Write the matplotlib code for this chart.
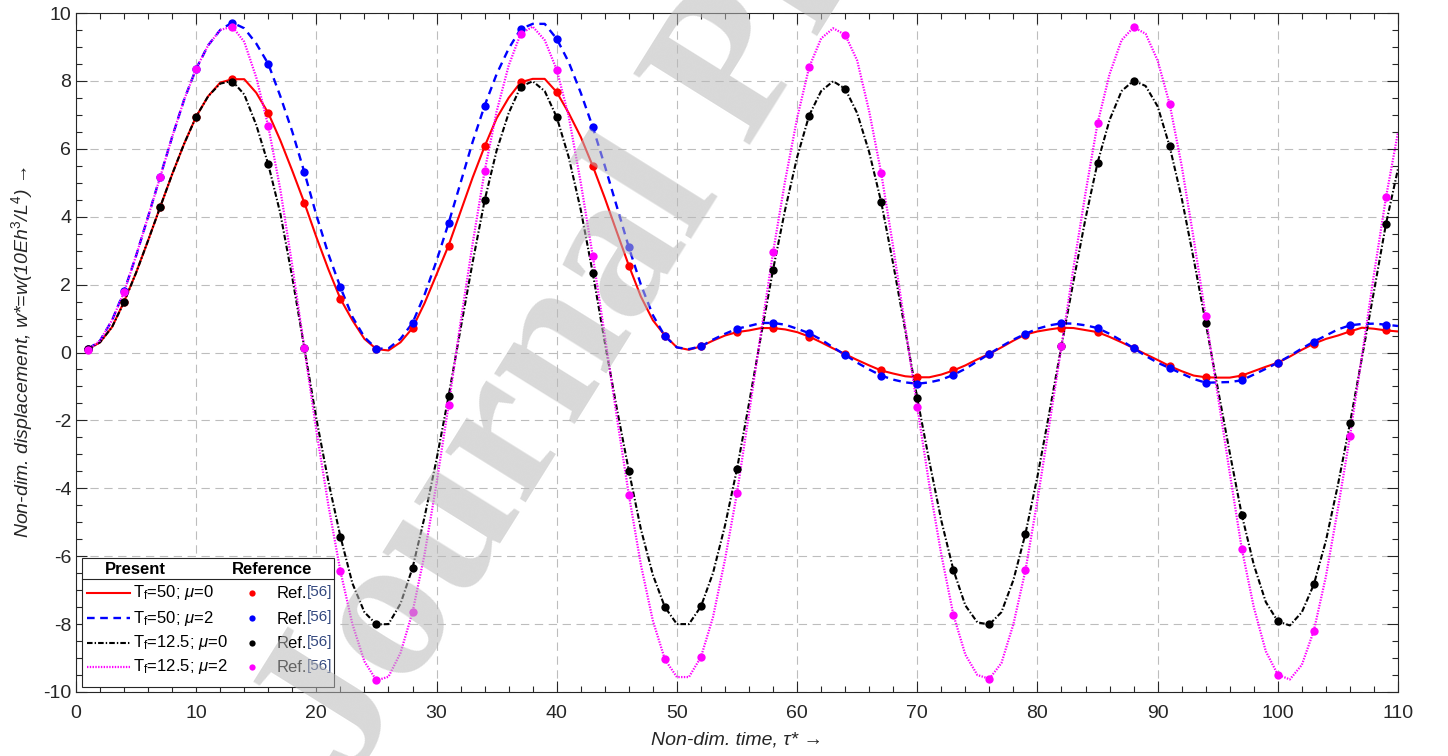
import numpy as np
import matplotlib
matplotlib.use('Agg')
import matplotlib.pyplot as plt
from matplotlib.patches import Rectangle
from matplotlib.lines import Line2D
from matplotlib.ticker import MultipleLocator

plt.rcParams['font.family'] = ['Liberation Sans', 'DejaVu Sans']
plt.rcParams['mathtext.fontset'] = 'custom'
plt.rcParams['mathtext.rm'] = 'Liberation Sans'
plt.rcParams['mathtext.it'] = 'Liberation Sans:italic'
plt.rcParams['mathtext.bf'] = 'Liberation Sans:bold'
plt.rcParams['lines.scale_dashes'] = False
plt.rcParams['axes.unicode_minus'] = False

# present solution, sampled at tau = 1..110
tau = np.arange(1, 111)
w_tf50_mu0 = [0.10, 0.30, 0.75, 1.50, 2.35, 3.30, 4.28, 5.25, 6.15, 6.95,
              7.55, 7.95, 8.05, 8.05, 7.65, 7.05, 6.25, 5.35, 4.41, 3.40,
              2.45, 1.58, 0.95, 0.40, 0.10, 0.06, 0.30, 0.72, 1.45, 2.30,
              3.15, 4.15, 5.15, 6.07, 6.90, 7.50, 7.96, 8.06, 8.06, 7.67,
              7.05, 6.35, 5.49, 4.55, 3.55, 2.56, 1.65, 0.95, 0.50, 0.15,
              0.08, 0.18, 0.35, 0.50, 0.60, 0.65, 0.72, 0.72, 0.68, 0.60,
              0.47, 0.30, 0.12, -0.05, -0.22, -0.38, -0.53, -0.62, -0.70, -0.73,
              -0.73, -0.65, -0.53, -0.38, -0.20, -0.04, 0.15, 0.35, 0.53, 0.62,
              0.68, 0.73, 0.72, 0.66, 0.60, 0.46, 0.30, 0.13, -0.05, -0.22,
              -0.40, -0.55, -0.68, -0.73, -0.74, -0.74, -0.68, -0.55, -0.42, -0.30,
              -0.12, 0.08, 0.26, 0.40, 0.50, 0.62, 0.73, 0.70, 0.65, 0.62]
w_tf50_mu2 = [0.10, 0.35, 0.95, 1.80, 2.85, 4.00, 5.18, 6.35, 7.45, 8.36,
              9.05, 9.50, 9.72, 9.55, 9.10, 8.50, 7.55, 6.50, 5.31, 4.05,
              2.90, 1.92, 1.05, 0.45, 0.11, 0.12, 0.40, 0.87, 1.70, 2.70,
              3.81, 5.00, 6.20, 7.27, 8.20, 8.95, 9.53, 9.68, 9.68, 9.24,
              8.55, 7.65, 6.64, 5.50, 4.30, 3.10, 2.00, 1.10, 0.48, 0.15,
              0.10, 0.18, 0.38, 0.55, 0.70, 0.78, 0.87, 0.87, 0.82, 0.70,
              0.57, 0.38, 0.15, -0.07, -0.30, -0.50, -0.68, -0.80, -0.88, -0.92,
              -0.88, -0.80, -0.66, -0.48, -0.26, -0.04, 0.18, 0.38, 0.55, 0.70,
              0.80, 0.86, 0.85, 0.80, 0.72, 0.55, 0.35, 0.13, -0.10, -0.30,
              -0.46, -0.62, -0.78, -0.89, -0.88, -0.87, -0.82, -0.65, -0.48, -0.30,
              -0.10, 0.12, 0.32, 0.50, 0.68, 0.80, 0.84, 0.85, 0.82, 0.78]
w_tf125_mu0 = [0.10, 0.30, 0.75, 1.48, 2.35, 3.30, 4.28, 5.25, 6.15, 6.95,
               7.55, 7.92, 8.00, 7.60, 6.70, 5.54, 4.10, 2.20, 0.13, -1.95,
               -3.80, -5.42, -6.80, -7.65, -8.01, -8.00, -7.40, -6.35, -4.85, -3.15,
               -1.29, 0.70, 2.65, 4.48, 5.95, 7.05, 7.83, 7.99, 7.70, 6.93,
               5.75, 4.20, 2.34, 0.30, -1.65, -3.48, -5.20, -6.55, -7.50, -8.00,
               -8.00, -7.48, -6.50, -5.10, -3.43, -1.50, 0.50, 2.44, 4.20, 5.75,
               6.98, 7.70, 7.99, 7.77, 7.05, 5.90, 4.43, 2.60, 0.65, -1.35,
               -3.20, -4.95, -6.40, -7.45, -7.95, -8.01, -7.65, -6.70, -5.34, -3.65,
               -1.75, 0.20, 2.10, 3.95, 5.59, 6.85, 7.70, 8.01, 7.85, 7.25,
               6.07, 4.55, 2.75, 0.87, -1.05, -2.95, -4.78, -6.25, -7.35, -7.92,
               -8.04, -7.65, -6.83, -5.55, -3.90, -2.09, -0.15, 1.80, 3.79, 5.41]
w_tf125_mu2 = [0.08, 0.35, 0.95, 1.78, 2.85, 4.00, 5.16, 6.35, 7.45, 8.36,
               9.05, 9.50, 9.60, 9.15, 8.10, 6.66, 4.80, 2.55, 0.13, -2.30,
               -4.50, -6.44, -8.00, -9.10, -9.66, -9.55, -8.85, -7.65, -5.95, -3.85,
               -1.56, 0.90, 3.20, 5.34, 7.10, 8.45, 9.39, 9.60, 9.20, 8.33,
               6.95, 5.00, 2.84, 0.50, -1.90, -4.19, -6.25, -7.90, -9.04, -9.56,
               -9.56, -8.97, -7.80, -6.10, -4.14, -1.80, 0.60, 2.95, 5.05, 6.90,
               8.40, 9.25, 9.55, 9.36, 8.60, 7.10, 5.28, 3.10, 0.75, -1.61,
               -3.90, -5.95, -7.72, -8.90, -9.50, -9.61, -9.15, -8.00, -6.42, -4.35,
               -2.10, 0.18, 2.50, 4.70, 6.75, 8.20, 9.20, 9.58, 9.39, 8.60,
               7.32, 5.50, 3.35, 1.07, -1.25, -3.55, -5.78, -7.50, -8.80, -9.49,
               -9.63, -9.20, -8.19, -6.60, -4.60, -2.47, -0.10, 2.30, 4.57, 6.49]

# Ref.[56] points at tau = 1, 4, ..., 109
tau_ref = np.arange(1, 110, 3)
ref_tf50_mu0 = [0.10, 1.50, 4.28, 6.95, 8.06, 7.05, 4.41, 1.58, 0.10, 0.72,
                3.15, 6.07, 7.96, 7.67, 5.49, 2.56, 0.50, 0.18, 0.60, 0.72,
                0.47, -0.05, -0.53, -0.73, -0.53, -0.04, 0.53, 0.73, 0.60, 0.13,
                -0.40, -0.73, -0.68, -0.30, 0.26, 0.62, 0.65]
ref_tf50_mu2 = [0.10, 1.80, 5.18, 8.36, 9.72, 8.50, 5.31, 1.92, 0.11, 0.87,
                3.81, 7.27, 9.53, 9.24, 6.64, 3.10, 0.48, 0.18, 0.70, 0.87,
                0.57, -0.07, -0.68, -0.92, -0.66, -0.04, 0.55, 0.86, 0.72, 0.13,
                -0.46, -0.89, -0.82, -0.30, 0.32, 0.80, 0.82]
ref_tf125_mu0 = [0.10, 1.48, 4.28, 6.95, 7.98, 5.54, 0.13, -5.42, -8.01, -6.35,
                 -1.29, 4.48, 7.83, 6.93, 2.34, -3.48, -7.50, -7.48, -3.43, 2.44,
                 6.98, 7.77, 4.43, -1.35, -6.40, -8.01, -5.34, 0.20, 5.59, 8.01,
                 6.07, 0.87, -4.78, -7.92, -6.83, -2.09, 3.79]
ref_tf125_mu2 = [0.08, 1.78, 5.16, 8.36, 9.60, 6.66, 0.13, -6.44, -9.66, -7.65,
                 -1.56, 5.34, 9.39, 8.33, 2.84, -4.19, -9.04, -8.97, -4.14, 2.95,
                 8.40, 9.36, 5.28, -1.61, -7.72, -9.61, -6.42, 0.18, 6.75, 9.58,
                 7.32, 1.07, -5.78, -9.49, -8.19, -2.47, 4.57]

labels = [r'T$_\mathrm{f}$=50; $\mu$=0', r'T$_\mathrm{f}$=50; $\mu$=2',
          r'T$_\mathrm{f}$=12.5; $\mu$=0', r'T$_\mathrm{f}$=12.5; $\mu$=2']
colors = ['#ff0000', '#0000ff', '#000000', '#ff00ff']
styles = ['-', (0, (5.5, 4)), (0, (4, 1.5, 1, 1.5)), (0, (1, 1))]
widths = [1.5, 1.7, 1.5, 1.6]
present = [w_tf50_mu0, w_tf50_mu2, w_tf125_mu0, w_tf125_mu2]
reference = [ref_tf50_mu0, ref_tf50_mu2, ref_tf125_mu0, ref_tf125_mu2]

W, H = 1448, 756
fig = plt.figure(figsize=(W / 100, H / 100), dpi=100)
ax = fig.add_axes([76 / W, 1 - 692 / H, (1398 - 76) / W, (692 - 13) / H])

for y, c, ls, lw in zip(present, colors, styles, widths):
    ax.plot(tau, y, color=c, linestyle=ls, lw=lw, zorder=3)
for y, c in zip(reference, colors):
    ax.plot(tau_ref, y, 'o', color=c, ms=6, mew=0, zorder=4)

ax.set_xlim(0, 110)
ax.set_ylim(-10, 10)
ax.set_xticks(np.arange(0, 111, 10))
ax.set_yticks(np.arange(-10, 11, 2))
ax.xaxis.set_minor_locator(MultipleLocator(2))
ax.yaxis.set_minor_locator(MultipleLocator(0.5))
ax.tick_params(which='both', direction='in', top=True, right=True,
               colors='#262626', labelsize=14, width=0.8)
ax.tick_params(which='major', length=8)
ax.tick_params(which='minor', length=4.5)
ax.tick_params(axis='x', which='major', pad=9)
ax.grid(True, which='major', linestyle=(0, (6, 4)), color='#bdbdbd', lw=0.8)
ax.set_axisbelow(True)
for s in ax.spines.values():
    s.set_color('#262626')
    s.set_linewidth(0.8)

ax.set_xlabel('Non-dim. time, τ* →', fontsize=14, style='italic',
              color='#262626', labelpad=7)
ax.set_ylabel('Non-dim. displacement, w*=w(10Eh$^3$/L$^4$) →', fontsize=14,
              style='italic', color='#262626', labelpad=6)


def fp(x, y):
    return x / W, 1 - y / H


# legend box, drawn by hand (two columns: Present / Reference)
bx0, by0, bx1, by1 = 82, 558, 334, 687
fig.add_artist(Rectangle(fp(bx0, by1), (bx1 - bx0) / W, (by1 - by0) / H,
                         transform=fig.transFigure, fc='white', ec='#262626',
                         lw=0.8, zorder=5))
fig.add_artist(Line2D([bx0 / W, bx1 / W], [1 - 579 / H] * 2,
                      transform=fig.transFigure, color='#262626', lw=0.8, zorder=6))
fig.text(*fp(135, 569), 'Present', ha='center', va='center', fontsize=12,
         fontweight='bold', zorder=6)
fig.text(*fp(272, 569), 'Reference', ha='center', va='center', fontsize=12,
         fontweight='bold', zorder=6)

rows = [593, 618, 643, 667]
renderer = fig.canvas.get_renderer()
for r, lab, c, ls, lw in zip(rows, labels, colors, styles, widths):
    fig.add_artist(Line2D([87 / W, 130 / W], [1 - r / H] * 2,
                          transform=fig.transFigure, color=c, linestyle=ls,
                          lw=lw, zorder=6))
    fig.text(*fp(133, r), lab, ha='left', va='center', fontsize=12, zorder=6)
    fig.add_artist(Line2D([252 / W], [1 - r / H], transform=fig.transFigure,
                          marker='o', ms=4.5, mew=0, color=c, linestyle='none',
                          zorder=6))
    t = fig.text(*fp(277, r + 1), 'Ref.', ha='left', va='center', fontsize=12,
                 zorder=6)
    bb = t.get_window_extent(renderer)
    fig.text(bb.x1 / W, 1 - (r - 1) / H, '[56]', ha='left', va='center',
             fontsize=11, color='#33487f', zorder=6)

# watermark
fig.text(*fp(352, 782), 'Journal Pre-proof', rotation=58, rotation_mode='anchor',
         ha='left', va='baseline', fontsize=150, fontfamily='Liberation Serif',
         fontweight='bold', color='#b9b9b9', alpha=0.55, zorder=10)

fig.savefig('out.png', dpi=100)
